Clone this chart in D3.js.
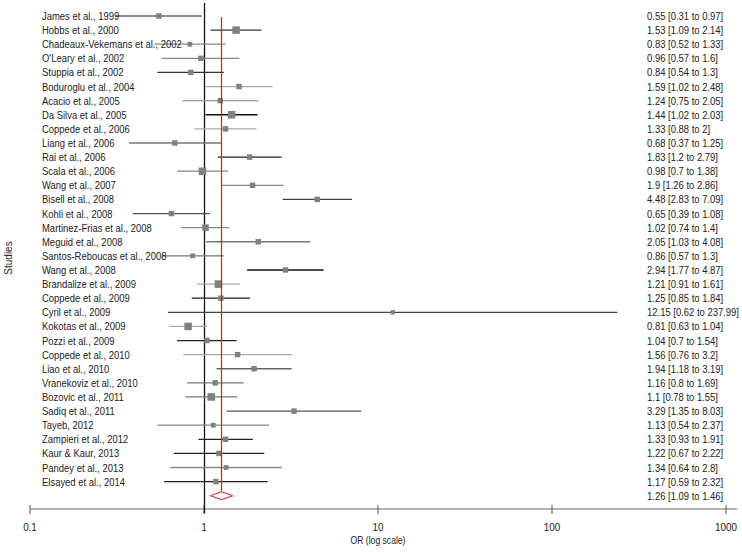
<!DOCTYPE html>
<html><head><meta charset="utf-8">
<script src="https://cdn.jsdelivr.net/npm/d3@7"></script>
<style>body{margin:0;background:#fff;} text{font-family:"Liberation Sans",Arial,sans-serif;}</style>
</head><body>
<svg id="chart" width="742" height="552"></svg>
<script>
const studies = ["James et al., 1999","Hobbs et al., 2000","Chadeaux-Vekemans et al., 2002","O'Leary et al., 2002","Stuppia et al., 2002","Boduroglu et al., 2004","Acacio et al., 2005","Da Silva et al., 2005","Coppede et al., 2006","Liang et al., 2006","Rai et al., 2006","Scala et al., 2006","Wang et al., 2007","Bisell et al., 2008","Kohli et al., 2008","Martinez-Frias et al., 2008","Meguid et al., 2008","Santos-Reboucas et al., 2008","Wang et al., 2008","Brandalize et al., 2009","Coppede et al., 2009","Cyril et al., 2009","Kokotas et al., 2009","Pozzi et al., 2009","Coppede et al., 2010","Liao et al., 2010","Vranekoviz et al., 2010","Bozovic et al., 2011","Sadiq et al., 2011","Tayeb, 2012","Zampieri et al., 2012","Kaur & Kaur, 2013","Pandey et al., 2013","Elsayed et al., 2014"];
const orValues = [0.55,1.53,0.83,0.96,0.84,1.59,1.24,1.44,1.33,0.68,1.83,0.98,1.9,4.48,0.65,1.02,2.05,0.86,2.94,1.21,1.25,12.15,0.81,1.04,1.56,1.94,1.16,1.1,3.29,1.13,1.33,1.22,1.34,1.17];
const ciLower = [0.31,1.09,0.52,0.57,0.54,1.02,0.75,1.02,0.88,0.37,1.2,0.7,1.26,2.83,0.39,0.74,1.03,0.57,1.77,0.91,0.85,0.62,0.63,0.7,0.76,1.18,0.8,0.78,1.35,0.54,0.93,0.67,0.64,0.59];
const ciUpper = [0.97,2.14,1.33,1.6,1.3,2.48,2.05,2.03,2,1.25,2.79,1.38,2.86,7.09,1.08,1.4,4.08,1.3,4.87,1.61,1.84,237.99,1.04,1.54,3.2,3.19,1.69,1.55,8.03,2.37,1.91,2.22,2.8,2.32];
const weights = [2,4,1.5,2,2,2,2,4,2,2,2,4,2,2,2,3,2,1.5,2,4,2,1.2,4,2,2,2,2,4,2,1.5,2,2,1.5,2];
const pooled = {or:1.26, lo:1.09, hi:1.46};
const tickValues = [0.1,1,10,100,1000];

// styles
const shades = ["#666","#333","#888","#888","#333","#aaa","#999","#111","#aaa","#777","#222","#888","#888","#444","#555","#888","#777","#777","#111","#aaa","#222","#444","#aaa","#222","#aaa","#666","#777","#777","#555","#888","#222","#222","#888","#222"];

const svg = d3.select("#chart");
const x = d3.scaleLog().domain([0.1,1000]).range([30,726]);
const y = d3.scaleLinear().domain([0,studies.length]).range([16,16+14.11*studies.length]);
const sz = d3.scaleSqrt().domain([1,4]).range([4,7.5]);
const FS = 11, SX = 0.86;

function label(sel, xp, yp){
  return sel.append("text").attr("transform",`translate(${xp},${yp}) scale(${SX},1)`)
    .attr("font-size",FS).attr("fill","#222");
}

// axis
const axisY = 509;
svg.append("line").attr("x1",30).attr("x2",737).attr("y1",axisY).attr("y2",axisY).attr("stroke","#999").attr("stroke-width",1.5);
svg.selectAll(".tk").data(tickValues).enter().append("line")
  .attr("x1",d=>x(d)).attr("x2",d=>x(d)).attr("y1",axisY-4).attr("y2",axisY+5).attr("stroke","#555");
svg.selectAll(".tl").data(tickValues).enter().append("text")
  .attr("transform",d=>`translate(${x(d)},531) scale(${SX},1)`).attr("text-anchor","middle").attr("font-size",11.5).attr("fill","#222").text(d=>d);
svg.append("text").attr("transform",`translate(${x(10)},544) scale(${SX},1)`).attr("text-anchor","middle").attr("font-size",10).attr("fill","#222").text("OR (log scale)");
svg.append("text").attr("transform","translate(12,258) rotate(-90)").attr("text-anchor","middle").attr("font-size",10).attr("fill","#222").text("Studies");

// null line
svg.append("line").attr("x1",Math.round(x(1))+0.5).attr("x2",Math.round(x(1))+0.5).attr("y1",3).attr("y2",513).attr("stroke","#111").attr("stroke-width",1.3);

// CI lines
const g = svg.append("g");
g.selectAll(".ci").data(studies).enter().append("line")
  .attr("x1",(d,i)=>x(ciLower[i])).attr("x2",(d,i)=>x(ciUpper[i]))
  .attr("y1",(d,i)=>y(i)).attr("y2",(d,i)=>y(i))
  .attr("stroke",(d,i)=>shades[i]).attr("stroke-width",1.3);
g.selectAll(".sq").data(studies).enter().append("rect")
  .attr("x",(d,i)=>x(orValues[i])-sz(weights[i])/2).attr("y",(d,i)=>y(i)-sz(weights[i])/2)
  .attr("width",(d,i)=>sz(weights[i])).attr("height",(d,i)=>sz(weights[i]))
  .attr("fill","#808080");

// pooled
const py = y(studies.length);
const rx = Math.round(x(pooled.or))+0.5;
svg.append("line").attr("x1",rx).attr("x2",rx).attr("y1",17).attr("y2",py-4).attr("stroke","#e8141c").attr("stroke-width",1.2);
svg.append("path").attr("d",`M${x(pooled.lo)},${py} L${x(pooled.or)},${py-4} L${x(pooled.hi)},${py} L${x(pooled.or)},${py+4} Z`)
  .attr("fill","none").attr("stroke","#e8141c").attr("stroke-width",1);

// labels
studies.forEach((d,i)=>label(svg,42,y(i)+4).text(d));
const fmt = (i)=>`${orValues[i]} [${ciLower[i]} to ${ciUpper[i]}]`;
studies.forEach((d,i)=>label(svg,647,y(i)+4).text(fmt(i)));
label(svg,647,py+4).text(`${pooled.or} [${pooled.lo} to ${pooled.hi}]`);
</script>
</body></html>
